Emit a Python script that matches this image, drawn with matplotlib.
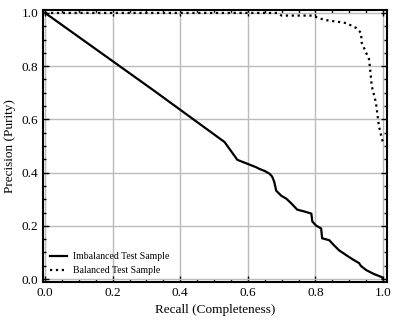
import matplotlib
matplotlib.use("Agg")
import matplotlib.pyplot as plt
import numpy as np

# recall / precision
imb_recall = [0.0, 0.32, 0.531, 0.569, 0.625, 0.634, 0.650, 0.664, 0.672, 0.678, 0.684, 0.699, 0.714,
              0.729, 0.746, 0.767, 0.788, 0.791, 0.802, 0.817, 0.820, 0.841, 0.855,
              0.870, 0.891, 0.909, 0.929, 0.935, 0.950, 0.973, 0.997, 1.0]
imb_precision = [1.0, 0.71, 0.515, 0.448, 0.42, 0.414, 0.406, 0.396, 0.385, 0.366, 0.332, 0.313, 0.302,
                 0.284, 0.261, 0.254, 0.246, 0.216, 0.201, 0.190, 0.153, 0.146, 0.127,
                 0.108, 0.090, 0.075, 0.060, 0.049, 0.034, 0.019, 0.007, 0.0]

bal_recall = [0.0, 0.687, 0.70, 0.79, 0.826, 0.870, 0.891, 0.920, 0.935, 0.937, 0.950,
              0.959, 0.967, 0.979, 0.988, 0.997, 1.0]
bal_precision = [1.0, 1.0, 0.99, 0.99, 0.974, 0.966, 0.962, 0.944, 0.925, 0.888, 0.851,
                 0.825, 0.724, 0.664, 0.575, 0.526, 0.515]

plt.rcParams['font.family'] = ['Liberation Serif', 'DejaVu Serif']

fig = plt.figure(figsize=(3.99, 3.23), dpi=100)
ax = fig.add_axes([0.108, 0.127, 0.862, 0.842])

ax.plot(imb_recall, imb_precision, color='black', lw=1.6, ls='-', label='Imbalanced Test Sample')
ax.plot(bal_recall, bal_precision, color='black', lw=1.6, ls=':', label='Balanced Test Sample')

ax.set_xlim(-0.006, 1.012)
ax.set_ylim(-0.011, 1.011)
ax.set_xticks(np.arange(0, 1.01, 0.2))
ax.set_yticks(np.arange(0, 1.01, 0.2))
ax.minorticks_on()
ax.grid(True, which='major', color='#bbbbbb', lw=1.0)
ax.set_axisbelow(True)
ax.tick_params(which='both', direction='in', top=True, right=True, labelsize=9.5)
ax.tick_params(which='major', length=4, width=1)
ax.tick_params(which='minor', length=2, width=1)
for s in ax.spines.values():
    s.set_linewidth(1.5)

ax.set_xlabel('Recall (Completeness)', fontsize=9.5)
ax.set_ylabel('Precision (Purity)', fontsize=9.5)
ax.legend(loc='lower left', frameon=False, fontsize=7, handlelength=1.8,
          borderaxespad=0.3, handletextpad=0.6)

fig.savefig('out.png', dpi=100)
